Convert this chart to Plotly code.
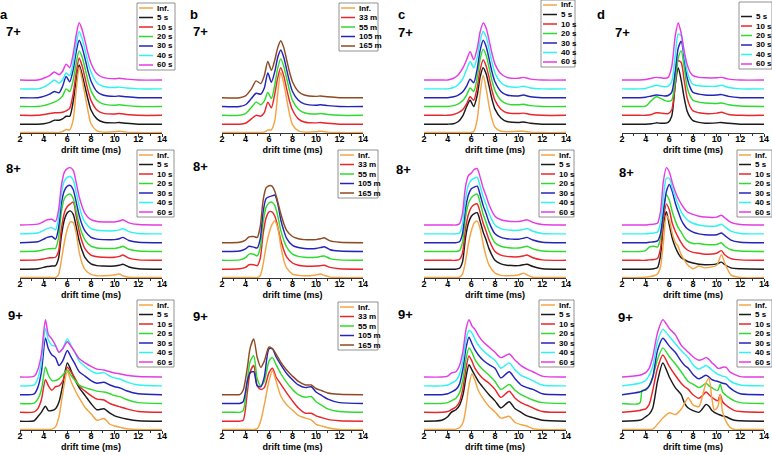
import plotly.graph_objects as go

W, H = 772, 455

# drift-time grids (ms)
X7 = [2, 3.5, 4.0, 4.5, 4.9, 5.3, 5.6, 5.9, 6.2, 6.5, 6.75, 7.0, 7.25, 7.5, 7.75, 8.0, 8.5, 9.0, 10.0, 10.4, 11.0, 12.0, 14.0]
X8 = [2, 3.5, 4.0, 4.3, 4.7, 5.0, 5.25, 5.5, 5.75, 6.0, 6.25, 6.5, 6.75, 7.0, 7.25, 7.5, 8.0, 8.5, 9.0, 10.0, 10.4, 10.7, 11.2, 12.0, 14.0]
X9 = [2, 3.2, 3.5, 3.8, 4.15, 4.4, 4.7, 5.0, 5.3, 5.6, 6.0, 6.3, 6.6, 7.0, 7.5, 8.0, 8.5, 9.1, 9.6, 10.0, 10.5, 11.0, 12.0, 14.0]
X9C = [2, 3.5, 4.0, 4.3, 4.7, 5.0, 5.3, 5.55, 5.8, 6.05, 6.3, 6.6, 7.0, 7.5, 8.0, 8.5, 9.2, 9.7, 10.2, 10.7, 11.2, 12.0, 14.0]
X9D = [2, 3.5, 3.7, 4.0, 4.3, 4.6, 5.0, 5.45, 6.0, 6.5, 7.0, 7.3, 7.6, 8.0, 8.5, 8.8, 9.1, 9.35, 9.6, 9.8, 10.1, 10.3, 10.5, 10.8, 11.1, 11.5, 12.0, 14.0]

# labels
LBL_S = ["Inf.", "5 s", "10 s", "20 s", "30 s", "40 s", "60 s"]
LBL_M = ["Inf.", "33 m", "55 m", "105 m", "165 m"]
OFFSETS = [0.05, 1, 2, 3, 4, 5, 6]

# intensities (a.u., above each trace's own baseline)
# panel a, 7+
A7 = [
    [0, 0, 0, 0, 0, 0, 0.1, 0.35, 0.3, 1.5, 4.8, 7.4, 6.0, 4.2, 2.4, 1.0, 0.2, 0.05, 0.1, 0.15, 0.05, 0, 0],
    [0, 0, 0.05, 0.2, 0.45, 0.45, 0.6, 0.9, 0.9, 2.6, 5.0, 6.7, 5.6, 4.2, 2.8, 1.6, 0.6, 0.25, 0.15, 0.2, 0.1, 0, 0],
    [0, 0, 0.1, 0.2, 0.3, 0.3, 0.35, 0.5, 0.8, 2.5, 4.8, 6.5, 5.6, 4.2, 2.8, 1.7, 0.6, 0.25, 0.15, 0.2, 0.1, 0, 0],
    [0, 0, 0.1, 0.3, 0.5, 0.8, 1.2, 2.0, 1.7, 3.0, 4.9, 6.3, 5.6, 4.3, 2.9, 1.8, 0.7, 0.3, 0.15, 0.2, 0.1, 0, 0],
    [0, 0, 0.15, 0.4, 0.7, 0.55, 1.3, 2.4, 1.8, 3.2, 5.2, 6.5, 5.7, 4.4, 3.0, 1.9, 0.7, 0.3, 0.15, 0.2, 0.1, 0, 0],
    [0, 0, 0.2, 0.6, 1.0, 0.65, 1.0, 1.8, 1.5, 3.0, 5.1, 6.5, 5.7, 4.4, 3.0, 1.9, 0.7, 0.3, 0.15, 0.2, 0.1, 0, 0],
    [0, 0, 0.2, 0.5, 0.9, 0.6, 1.0, 1.8, 1.4, 3.0, 5.1, 6.5, 5.7, 4.4, 3.0, 1.9, 0.7, 0.3, 0.15, 0.2, 0.1, 0, 0],
]
# panel b, 7+
B7 = [
    [0, 0, 0, 0, 0, 0, 0.05, 0.3, 0.3, 1.4, 4.5, 6.8, 5.6, 3.8, 2.1, 0.9, 0.2, 0.05, 0.1, 0.15, 0.05, 0, 0],
    [0, 0, 0.1, 0.6, 1.0, 0.9, 1.3, 2.5, 1.85, 3.5, 5.3, 6.4, 5.5, 4.0, 2.6, 1.6, 0.6, 0.25, 0.15, 0.2, 0.1, 0, 0],
    [0, 0, 0.2, 0.9, 1.5, 1.2, 1.6, 2.6, 1.9, 3.5, 5.4, 6.4, 5.6, 4.2, 2.8, 1.7, 0.7, 0.3, 0.15, 0.2, 0.1, 0, 0],
    [0, 0, 0.2, 0.9, 1.5, 1.4, 2.1, 3.8, 2.75, 4.0, 5.6, 6.4, 5.6, 4.2, 2.8, 1.7, 0.7, 0.3, 0.15, 0.2, 0.1, 0, 0],
    [0, 0, 0.2, 1.0, 1.9, 1.6, 2.5, 4.1, 3.1, 4.3, 5.7, 6.45, 5.7, 4.3, 2.9, 1.8, 0.7, 0.3, 0.15, 0.2, 0.1, 0, 0],
]
# panel c, 7+
C7 = [
    [0, 0, 0, 0, 0, 0, 0, 0, 0.1, 1.5, 4.5, 6.5, 5.0, 3.0, 1.5, 0.6, 0.15, 0.1, 0.15, 0.15, 0.05, 0, 0],
    [0, 0, 0, 0.05, 0.3, 1.0, 2.0, 2.7, 2.0, 3.3, 5.4, 6.4, 5.7, 4.3, 2.8, 1.7, 0.7, 0.3, 0.2, 0.25, 0.1, 0, 0],
    [0, 0, 0, 0.1, 0.3, 0.7, 1.3, 2.1, 1.7, 3.2, 5.2, 6.3, 5.6, 4.3, 2.8, 1.7, 0.7, 0.3, 0.2, 0.25, 0.1, 0, 0],
    [0, 0, 0, 0.1, 0.3, 0.7, 1.3, 2.1, 1.7, 3.3, 5.4, 6.5, 5.8, 4.4, 2.9, 1.8, 0.7, 0.3, 0.2, 0.25, 0.1, 0, 0],
    [0, 0, 0, 0.1, 0.3, 0.7, 1.3, 2.1, 1.7, 3.3, 5.4, 6.5, 5.8, 4.4, 2.9, 1.8, 0.7, 0.3, 0.2, 0.3, 0.1, 0, 0],
    [0, 0, 0, 0.15, 0.5, 1.2, 2.2, 3.1, 2.4, 3.6, 5.5, 6.5, 5.9, 4.5, 3.0, 1.8, 0.7, 0.3, 0.2, 0.3, 0.1, 0, 0],
    [0, 0, 0, 0.2, 0.6, 1.4, 2.3, 3.2, 2.3, 3.6, 5.5, 6.45, 5.9, 4.5, 3.0, 1.8, 0.7, 0.3, 0.2, 0.3, 0.1, 0, 0],
]
# panel d, 7+ (no Inf. trace)
D7 = [
    [0, 0, 0, 0.05, 0.15, 0.1, 0.1, 0.2, 0.9, 4.5, 6.4, 5.0, 3.0, 1.5, 0.8, 0.4, 0.2, 0.1, 0.15, 0.2, 0.1, 0, 0],
    [0, 0, 0, 0.1, 0.3, 0.25, 0.2, 0.2, 0.6, 3.5, 6.2, 6.0, 4.0, 2.0, 1.0, 0.5, 0.3, 0.2, 0.25, 0.35, 0.1, 0, 0],
    [0, 0, 0.05, 0.7, 1.1, 0.9, 0.7, 0.6, 0.7, 3.0, 5.5, 6.3, 4.5, 2.2, 1.2, 0.7, 0.5, 0.4, 0.35, 0.4, 0.2, 0.05, 0],
    [0, 0, 0.05, 0.2, 0.3, 0.25, 0.2, 0.25, 0.6, 3.0, 5.6, 6.4, 4.6, 2.3, 1.2, 0.6, 0.4, 0.3, 0.3, 0.35, 0.15, 0, 0],
    [0, 0, 0.05, 0.25, 0.4, 0.3, 0.25, 0.3, 0.8, 3.8, 6.2, 6.0, 4.0, 2.0, 1.0, 0.5, 0.35, 0.3, 0.3, 0.4, 0.15, 0, 0],
    [0, 0, 0.05, 0.2, 0.3, 0.25, 0.2, 0.3, 1.5, 5.0, 6.5, 5.3, 3.3, 1.8, 0.9, 0.5, 0.3, 0.25, 0.25, 0.3, 0.1, 0, 0],
]
# panel a, 8+
A8 = [
    [0, 0, 0, 0, 0, 0, 0.3, 2.0, 4.0, 5.5, 6.3, 6.2, 5.0, 2.9, 1.6, 0.9, 0.35, 0.2, 0.2, 0.3, 0.4, 0.2, 0.03, 0, 0],
    [0, 0.05, 0.2, 0.3, 0.35, 0.4, 1.2, 3.8, 5.6, 6.4, 6.6, 6.2, 4.8, 3.2, 2.1, 1.3, 0.6, 0.4, 0.35, 0.35, 0.45, 0.55, 0.25, 0.05, 0],
    [0, 0.05, 0.15, 0.25, 0.3, 0.35, 1.0, 3.6, 5.4, 6.1, 6.4, 6.6, 5.0, 3.3, 2.1, 1.3, 0.6, 0.4, 0.35, 0.35, 0.45, 0.6, 0.25, 0.05, 0],
    [0, 0.05, 0.2, 0.3, 0.35, 0.35, 1.5, 4.5, 6.0, 6.4, 6.5, 6.0, 4.6, 3.1, 2.0, 1.3, 0.6, 0.4, 0.35, 0.35, 0.45, 0.6, 0.25, 0.05, 0],
    [0, 0.1, 0.4, 0.6, 0.7, 0.4, 1.6, 4.5, 5.9, 6.4, 6.5, 6.0, 4.6, 3.1, 2.0, 1.3, 0.6, 0.4, 0.35, 0.35, 0.45, 0.6, 0.25, 0.05, 0],
    [0, 0.1, 0.4, 0.6, 0.7, 0.45, 1.7, 4.6, 6.0, 6.4, 6.5, 6.1, 4.7, 3.2, 2.0, 1.3, 0.6, 0.4, 0.35, 0.35, 0.45, 0.6, 0.25, 0.05, 0],
    [0, 0.1, 0.4, 0.6, 0.65, 0.4, 1.6, 4.5, 6.0, 6.4, 6.5, 6.2, 4.8, 3.2, 2.1, 1.3, 0.6, 0.4, 0.35, 0.35, 0.45, 0.6, 0.25, 0.05, 0],
]
# panel b, 8+
B8 = [
    [0, 0, 0, 0, 0, 0, 0.2, 1.5, 3.5, 5.0, 6.0, 6.4, 5.6, 3.6, 2.0, 1.1, 0.4, 0.25, 0.2, 0.3, 0.4, 0.25, 0.05, 0, 0],
    [0, 0.05, 0.2, 0.5, 0.5, 0.4, 1.2, 4.0, 5.8, 6.5, 6.5, 6.0, 4.8, 3.3, 2.2, 1.4, 0.7, 0.45, 0.35, 0.35, 0.4, 0.45, 0.2, 0.05, 0],
    [0, 0.05, 0.3, 0.7, 0.7, 0.5, 1.4, 4.3, 6.0, 6.5, 6.6, 6.2, 5.0, 3.4, 2.3, 1.5, 0.7, 0.45, 0.35, 0.35, 0.45, 0.5, 0.2, 0.05, 0],
    [0, 0.05, 0.3, 0.6, 0.5, 0.4, 1.4, 4.5, 6.0, 6.2, 6.3, 6.4, 5.4, 3.6, 2.4, 1.5, 0.7, 0.45, 0.35, 0.35, 0.45, 0.55, 0.2, 0.05, 0],
    [0, 0.05, 0.3, 0.65, 0.7, 0.6, 1.8, 4.8, 6.2, 6.45, 6.4, 5.8, 4.6, 3.3, 2.2, 1.4, 0.7, 0.45, 0.35, 0.35, 0.45, 0.55, 0.2, 0.05, 0],
]
# panel c, 8+
C8 = [
    [0, 0, 0, 0, 0, 0.05, 0.4, 1.8, 3.8, 5.3, 6.2, 6.4, 5.5, 3.8, 2.4, 1.4, 0.5, 0.25, 0.2, 0.3, 0.5, 0.3, 0.03, 0, 0],
    [0, 0, 0, 0, 0, 0.1, 0.8, 3.5, 5.2, 6.0, 6.3, 6.4, 5.4, 4.2, 3.3, 2.3, 1.0, 0.6, 0.45, 0.4, 0.5, 0.55, 0.3, 0.05, 0],
    [0, 0, 0, 0, 0, 0.1, 0.8, 3.5, 5.2, 6.0, 6.3, 6.4, 5.4, 4.2, 3.3, 2.3, 1.0, 0.6, 0.45, 0.4, 0.5, 0.6, 0.3, 0.05, 0],
    [0, 0, 0, 0, 0, 0.1, 1.0, 3.8, 5.4, 6.1, 6.4, 6.5, 5.5, 4.2, 3.3, 2.3, 1.0, 0.6, 0.45, 0.4, 0.5, 0.6, 0.3, 0.05, 0],
    [0, 0, 0, 0, 0, 0.1, 1.0, 3.8, 5.4, 6.1, 6.3, 6.4, 5.4, 4.2, 3.3, 2.3, 1.0, 0.6, 0.45, 0.4, 0.5, 0.6, 0.3, 0.05, 0],
    [0, 0, 0, 0, 0, 0.1, 1.1, 3.9, 5.5, 6.1, 6.3, 6.4, 5.4, 4.2, 3.3, 2.3, 1.0, 0.6, 0.45, 0.4, 0.5, 0.6, 0.3, 0.05, 0],
    [0, 0, 0, 0, 0, 0.15, 1.3, 4.3, 5.6, 5.9, 6.3, 6.4, 5.4, 4.2, 3.3, 2.3, 1.0, 0.6, 0.45, 0.4, 0.5, 0.6, 0.3, 0.05, 0],
]
# panel d, 8+
D8 = [
    [0, 0, 0.05, 0.1, 0.2, 0.4, 1.2, 4.0, 7.0, 6.5, 5.0, 4.0, 3.5, 2.6, 2.0, 1.5, 1.0, 1.3, 1.1, 1.4, 2.6, 1.6, 0.3, 0, 0],
    [0, 0, 0, 0, 0.05, 0.2, 1.5, 5.0, 6.5, 5.0, 3.5, 2.5, 1.8, 1.3, 1.1, 0.9, 0.7, 0.55, 0.5, 0.6, 0.8, 0.5, 0.15, 0.05, 0],
    [0, 0, 0, 0.05, 0.1, 0.2, 1.3, 4.5, 6.4, 5.7, 4.2, 3.3, 2.6, 2.0, 1.5, 1.2, 0.9, 0.8, 0.7, 0.8, 1.1, 0.6, 0.2, 0.05, 0],
    [0, 0, 0.1, 0.5, 0.6, 0.5, 1.5, 4.5, 6.4, 5.8, 4.5, 3.5, 2.7, 2.2, 1.6, 1.2, 0.9, 0.9, 0.8, 0.8, 1.0, 0.6, 0.2, 0.05, 0],
    [0, 0, 0, 0.05, 0.1, 0.2, 1.0, 3.5, 5.8, 6.6, 5.8, 4.5, 3.5, 2.6, 2.0, 1.6, 1.2, 1.0, 0.9, 0.9, 1.1, 0.8, 0.3, 0.05, 0],
    [0, 0, 0, 0.05, 0.1, 0.2, 1.2, 4.2, 6.3, 6.3, 5.2, 4.2, 3.3, 2.5, 2.0, 1.6, 1.2, 1.0, 0.9, 0.9, 1.1, 0.8, 0.3, 0.05, 0],
    [0, 0, 0, 0.05, 0.1, 0.2, 1.5, 5.0, 6.5, 6.0, 4.8, 3.8, 3.0, 2.4, 1.9, 1.5, 1.2, 1.0, 0.9, 0.9, 1.1, 0.8, 0.3, 0.05, 0],
]
# panel a, 9+
A9 = [
    [0, 0, 0, 0, 0, 0, 0.05, 0.3, 1.5, 4.0, 6.6, 5.5, 4.6, 3.6, 2.5, 1.8, 1.05, 1.25, 0.6, 0.4, 0.25, 0.1, 0, 0],
    [0, 0.05, 0.5, 1.0, 1.7, 1.2, 1.2, 1.4, 2.2, 4.0, 6.6, 5.8, 4.8, 3.8, 2.9, 2.0, 1.3, 1.4, 0.9, 0.6, 0.4, 0.25, 0.05, 0],
    [0, 0.05, 0.4, 1.4, 3.7, 3.0, 2.5, 2.9, 3.0, 3.5, 5.1, 4.6, 4.0, 3.0, 2.4, 1.9, 1.5, 1.4, 1.0, 0.8, 0.6, 0.4, 0.1, 0],
    [0, 0.05, 0.5, 1.5, 4.15, 3.2, 2.6, 2.6, 2.8, 3.2, 3.8, 3.2, 2.7, 2.1, 1.8, 1.6, 1.4, 1.3, 1.1, 0.9, 0.75, 0.45, 0.1, 0],
    [0, 0.1, 0.8, 2.5, 6.4, 5.2, 4.5, 4.2, 3.3, 3.8, 5.0, 4.3, 3.6, 2.6, 2.1, 1.6, 1.3, 1.4, 1.1, 0.9, 0.75, 0.45, 0.1, 0],
    [0, 0.1, 0.8, 2.6, 6.5, 5.2, 4.6, 4.5, 3.8, 4.2, 5.3, 4.6, 3.9, 2.8, 2.2, 1.7, 1.4, 1.5, 1.1, 0.9, 0.75, 0.45, 0.1, 0],
    [0, 0.1, 0.8, 2.5, 6.5, 4.8, 4.3, 3.6, 2.8, 3.2, 4.0, 3.5, 2.9, 2.1, 1.6, 1.2, 0.9, 0.8, 0.6, 0.45, 0.35, 0.2, 0.05, 0],
]
# panel b, 9+
B9 = [
    [0, 0, 0, 0, 0, 0, 0, 0.1, 1.0, 2.8, 5.5, 6.7, 5.5, 3.8, 2.8, 2.2, 1.6, 1.3, 1.1, 0.6, 0.4, 0.2, 0, 0],
    [0, 0, 0, 0.1, 3.2, 5.6, 6.3, 4.0, 3.6, 3.8, 5.5, 6.0, 5.0, 4.2, 3.2, 2.3, 1.5, 0.9, 0.9, 0.6, 0.4, 0.2, 0.05, 0],
    [0, 0, 0, 0.2, 3.5, 5.8, 6.4, 3.8, 3.0, 3.5, 5.8, 6.2, 5.4, 4.4, 3.4, 2.6, 2.0, 1.7, 1.8, 1.2, 0.8, 0.4, 0.1, 0],
    [0, 0, 0, 0.2, 2.5, 3.5, 3.6, 2.0, 1.9, 3.0, 6.2, 6.2, 5.3, 4.4, 3.4, 2.7, 2.1, 1.8, 1.9, 1.3, 0.9, 0.5, 0.1, 0],
    [0, 0, 0, 0.5, 3.0, 5.3, 6.3, 4.2, 3.1, 3.8, 5.4, 5.2, 4.6, 3.7, 2.8, 2.1, 1.5, 1.1, 1.1, 0.7, 0.45, 0.2, 0.05, 0],
]
# panel c, 9+
C9 = [
    [0, 0, 0, 0, 0.05, 0.2, 0.8, 2.5, 5.0, 6.3, 5.6, 4.4, 3.5, 2.6, 2.0, 1.3, 1.5, 0.8, 0.55, 0.4, 0.1, 0, 0],
    [0, 0.1, 0.5, 1.0, 1.3, 1.8, 3.0, 5.0, 6.4, 5.8, 5.2, 4.5, 3.8, 3.0, 2.3, 1.5, 2.2, 1.4, 1.0, 0.6, 0.4, 0.1, 0],
    [0, 0, 0.1, 0.3, 0.6, 1.2, 2.8, 5.0, 6.4, 5.8, 5.0, 4.4, 3.8, 3.3, 2.6, 1.7, 2.4, 1.6, 1.1, 0.8, 0.5, 0.1, 0],
    [0, 0, 0.1, 0.3, 0.6, 1.2, 2.8, 5.0, 6.3, 5.8, 5.0, 4.4, 3.8, 3.2, 2.5, 1.6, 2.15, 1.5, 1.0, 0.7, 0.4, 0.1, 0],
    [0, 0, 0.1, 0.3, 0.6, 1.2, 3.0, 5.3, 6.5, 5.8, 5.1, 4.5, 3.9, 3.4, 3.0, 1.9, 2.6, 1.8, 1.1, 0.8, 0.6, 0.1, 0],
    [0, 0, 0.1, 0.3, 0.6, 1.3, 3.0, 5.2, 6.3, 6.0, 5.3, 4.6, 4.0, 3.4, 2.9, 2.0, 2.6, 1.8, 1.2, 0.9, 0.6, 0.1, 0],
    [0, 0, 0.1, 0.45, 0.6, 1.3, 3.0, 5.4, 6.5, 5.8, 5.4, 4.7, 4.0, 3.4, 2.8, 2.2, 2.6, 1.9, 1.3, 0.9, 0.6, 0.1, 0],
]
# panel d, 9+
D9 = [
    [0, 0, 0, 0, 0, 0.05, 0.6, 1.3, 1.9, 1.7, 2.3, 3.0, 3.6, 2.8, 2.6, 3.8, 5.3, 5.8, 3.5, 2.2, 2.6, 4.0, 2.0, 0.9, 0.3, 0, 0, 0],
    [0, 0.1, 0.2, 0.5, 0.8, 1.5, 4.5, 6.6, 5.0, 3.8, 3.0, 2.0, 1.5, 1.2, 1.0, 1.4, 1.9, 1.7, 1.2, 1.0, 0.8, 0.7, 0.6, 0.5, 0.3, 0.1, 0.05, 0],
    [0, 0.2, 0.3, 0.4, 0.9, 2.5, 5.0, 6.5, 5.2, 4.2, 3.3, 2.9, 2.6, 2.0, 1.6, 1.9, 2.3, 2.0, 1.7, 1.5, 1.3, 2.0, 1.2, 0.8, 0.5, 0.2, 0.1, 0],
    [0, 0.05, 1.5, 1.5, 2.0, 3.0, 5.0, 6.3, 5.3, 4.5, 3.6, 3.0, 2.5, 2.2, 1.8, 2.0, 2.3, 2.0, 1.8, 1.6, 1.5, 2.2, 1.3, 0.9, 0.6, 0.3, 0.1, 0],
    [0, 0.3, 0.4, 0.6, 1.0, 2.0, 5.0, 6.4, 5.5, 4.8, 3.8, 3.3, 3.0, 2.3, 1.8, 2.0, 2.2, 2.0, 1.7, 1.6, 1.5, 1.4, 1.3, 1.2, 0.8, 0.4, 0.1, 0],
    [0, 0.3, 0.4, 0.6, 1.2, 2.2, 5.0, 6.4, 5.6, 4.8, 4.0, 3.6, 3.2, 2.4, 1.9, 2.1, 2.3, 2.1, 1.8, 1.6, 1.3, 1.2, 1.1, 1.0, 0.6, 0.3, 0.1, 0],
    [0, 0.2, 0.3, 0.5, 1.0, 2.3, 5.0, 6.5, 5.5, 4.8, 3.6, 3.2, 2.8, 2.3, 1.9, 2.0, 2.2, 2.0, 1.6, 1.4, 1.0, 1.0, 1.1, 1.1, 0.6, 0.3, 0.05, 0],
]

# colours
ORANGE, BLACK, RED, GREEN = "#F4A444", "#1a1a1a", "#E8262B", "#2EDB2E"
BLUE, CYAN, MAGENTA, BROWN = "#2424B8", "#2FF2F2", "#E43CE4", "#8E4A22"
COL_S = [ORANGE, BLACK, RED, GREEN, BLUE, CYAN, MAGENTA]
COL_M = [ORANGE, RED, GREEN, BLUE, BROWN]

# layout in pixels
COLS_PX = [(20, 162), (222, 363), (424, 566), (622, 764)]
ROWS_AXIS = [133, 278, 430]
PLOT_H = 128
Y_MAX = 14.5


def px(x):
    return x / W


def py(y):
    return 1 - y / H


# (row, col, x grid, series, labels, colours, first slot, legend left, top, width, line len)
panels = [
    (0, 0, X7, A7, LBL_S, COL_S, 0, 137, 3, 38, 14),
    (0, 1, X7, B7, LBL_M, COL_M, 0, 339, 3, 39, 14),
    (0, 2, X7, C7, LBL_S, COL_S, 0, 541, 0, 34, 14),
    (0, 3, X7, D7, LBL_S, COL_S, 1, 739, 2, 33, 11),
    (1, 0, X8, A8, LBL_S, COL_S, 0, 137, 150, 37, 14),
    (1, 1, X8, B8, LBL_M, COL_M, 0, 338, 150, 40, 14),
    (1, 2, X8, C8, LBL_S, COL_S, 0, 539, 150, 35, 14),
    (1, 3, X8, D8, LBL_S, COL_S, 0, 737, 150, 35, 12),
    (2, 0, X9, A9, LBL_S, COL_S, 0, 137, 300, 37, 14),
    (2, 1, X9, B9, LBL_M, COL_M, 0, 338, 302, 40, 14),
    (2, 2, X9C, C9, LBL_S, COL_S, 0, 539, 300, 35, 14),
    (2, 3, X9D, D9, LBL_S, COL_S, 0, 737, 300, 35, 12),
]

FONT = "Liberation Sans, Arial, sans-serif"
fig = go.Figure()
shapes, annotations = [], []
layout_axes = {}
STEP = 9.5

for k, (row, col, xs, series, labels, colors, start, lx, ly, lw, ll) in enumerate(panels, start=1):
    xa = "x" if k == 1 else f"x{k}"
    ya = "y" if k == 1 else f"y{k}"
    n_slots = len(labels)
    slots = list(range(start, n_slots))
    # draw Inf. last so it sits on top
    order = list(range(len(series)))
    if start == 0:
        order = order[1:] + [0]
    for i in order:
        slot = slots[i]
        fig.add_trace(go.Scatter(
            x=xs, y=[v + OFFSETS[slot] for v in series[i]], mode="lines",
            line=dict(color=colors[slot], width=1.45, shape="spline", smoothing=0.7),
            xaxis=xa, yaxis=ya, showlegend=False, hoverinfo="skip"))

    x0, x1 = COLS_PX[col]
    ax = ROWS_AXIS[row]
    layout_axes["xaxis" if k == 1 else f"xaxis{k}"] = dict(
        domain=[px(x0), px(x1)], anchor=ya, range=[2, 14],
        tickvals=[2, 4, 6, 8, 10, 12, 14], ticks="outside", ticklen=3, tickwidth=1,
        ticklabelstandoff=-6,
        tickcolor="#333", showline=True, linecolor="#333", linewidth=1,
        showgrid=False, zeroline=False, automargin=False,
        minor=dict(tickvals=[3, 5, 7, 9, 11, 13], ticks="outside", ticklen=2, tickcolor="#333"),
        tickfont=dict(family=FONT, size=9, color="black", weight="bold"),
        title=dict(text="drift time (ms)", standoff=3,
                   font=dict(family=FONT, size=9, color="black", weight="bold")))
    layout_axes["yaxis" if k == 1 else f"yaxis{k}"] = dict(
        domain=[py(ax), py(ax - PLOT_H)], anchor=xa, range=[0, Y_MAX], visible=False)

    # legend box
    box_h = 5 + (n_slots - 1) * STEP + 5
    shapes.append(dict(type="rect", xref="paper", yref="paper",
                       x0=px(lx), x1=px(lx + lw), y0=py(ly + box_h), y1=py(ly),
                       line=dict(color="#777", width=0.8), fillcolor="white"))
    for slot in slots:
        yc = ly + 5 + slot * STEP
        shapes.append(dict(type="line", xref="paper", yref="paper",
                           x0=px(lx + 2), x1=px(lx + 2 + ll), y0=py(yc), y1=py(yc),
                           line=dict(color=colors[slot], width=1.5)))
        annotations.append(dict(text=labels[slot], xref="paper", yref="paper",
                                x=px(lx + ll + 3.5), y=py(yc), xanchor="left", yanchor="middle",
                                showarrow=False,
                                font=dict(family=FONT, size=8, color="black", weight="bold")))

# panel letters and charge states
LETTERS = [("a", 4, 14), ("b", 194, 14), ("c", 402, 14), ("d", 601, 15)]
CHARGES = [
    ("7+", 14, 32), ("7+", 201, 32), ("7+", 405, 33), ("7+", 622, 33),
    ("8+", 13, 168), ("8+", 201, 166), ("8+", 403, 169), ("8+", 626, 172),
    ("9+", 15, 315), ("9+", 201, 316), ("9+", 405, 314), ("9+", 625, 317),
]
for txt, x, y in LETTERS:
    annotations.append(dict(text=txt, xref="paper", yref="paper", x=px(x), y=py(y),
                            xanchor="center", yanchor="middle", showarrow=False,
                            font=dict(family=FONT, size=13, color="black", weight="bold")))
for txt, x, y in CHARGES:
    annotations.append(dict(text=txt, xref="paper", yref="paper", x=px(x), y=py(y),
                            xanchor="center", yanchor="middle", showarrow=False,
                            font=dict(family=FONT, size=13, color="black", weight="bold")))

fig.update_layout(
    width=W, height=H, margin=dict(l=0, r=0, t=0, b=0),
    paper_bgcolor="white", plot_bgcolor="white", showlegend=False,
    shapes=shapes, annotations=annotations, **layout_axes)

# the page's default body margin would push the figure 8 px in
fig.write_html("out.html", config={"displayModeBar": False},
               post_script="document.body.style.margin='0';")
